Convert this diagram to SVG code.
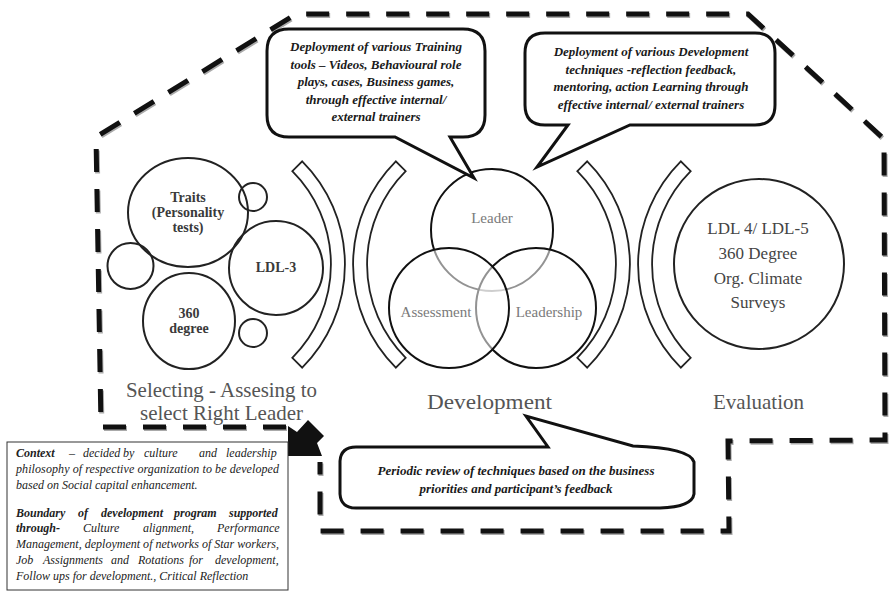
<svg xmlns="http://www.w3.org/2000/svg" width="889" height="591" viewBox="0 0 889 591">
  <style>
    .bd{fill:none;stroke:#111;stroke-width:5;stroke-dasharray:23 17;stroke-linejoin:miter}
    .bdsh{fill:none;stroke:#aaa;stroke-width:5;stroke-dasharray:23 17}
    .c{fill:none;stroke:#222;stroke-width:2}
    .band{fill:#fff;stroke:#222;stroke-width:1.8}
    .v{fill:#fff;fill-opacity:.55;stroke:#111;stroke-width:2}
    .bub{fill:#fff;stroke:#111;stroke-width:3;stroke-linejoin:miter}
    .bt{font-family:"Liberation Serif",serif;font-weight:bold;font-style:italic;font-size:13px;fill:#1a1a1a;text-anchor:middle}
    .ct{font-family:"Liberation Serif",serif;font-weight:bold;font-size:14px;fill:#3a3a3a;text-anchor:middle}
    .vt{font-family:"Liberation Serif",serif;font-size:15px;fill:#7a7a7a;text-anchor:middle}
    .et{font-family:"Liberation Serif",serif;font-size:17px;fill:#444;text-anchor:middle}
    .lb{font-family:"Liberation Serif",serif;font-size:21px;fill:#555;text-anchor:middle}
    .tx{font-family:"Liberation Serif",serif;font-style:italic;font-size:12px;fill:#222}
    .b{font-weight:bold}
  </style>
  <defs>
    <path id="boundary" d="M 286,427 L 101,427 L 96,137 L 296,14 L 748,14 L 884,139 L 885,440 L 728,441 L 729,531 L 320,531 L 320,462"/>
  </defs>

  <!-- programme boundary (dashed) with its soft shadow -->
  <g id="boundary-line">
    <use href="#boundary" class="bdsh" transform="translate(1,1.5)"/>
    <use href="#boundary" class="bd"/>
    <polygon points="288,426 297,432 308,420 324,436 317,443 322,456 288,456" fill="#111"/>
  </g>

  <!-- selection: assessment circles -->
  <g id="selecting">
    <ellipse class="c" cx="188" cy="212.5" rx="60" ry="54.5"/>
    <circle class="c" cx="253" cy="197" r="14"/>
    <circle class="c" cx="276" cy="268" r="47"/>
    <circle class="c" cx="130.5" cy="266" r="23"/>
    <ellipse class="c" cx="189" cy="321" rx="46" ry="48"/>
    <circle class="c" cx="253" cy="333" r="14"/>
    <text class="ct" x="188" y="202">Traits</text>
    <text class="ct" x="188" y="217">(Personality</text>
    <text class="ct" x="188" y="232">tests)</text>
    <text class="ct" x="276" y="272">LDL-3</text>
    <text class="ct" x="189" y="318">360</text>
    <text class="ct" x="189" y="333">degree</text>
    <text class="lb" x="221.5" y="397" textLength="191" lengthAdjust="spacingAndGlyphs">Selecting - Assesing to</text>
    <text class="lb" x="221.5" y="420" textLength="163" lengthAdjust="spacingAndGlyphs">select Right Leader</text>
  </g>

  <!-- bracket bands between stages -->
  <g id="brackets">
    <path class="band" d="M 302.2,161.3 A 146 146 0 0 1 302.2,367.7 L 292.3,357.8 A 132 132 0 0 0 292.3,171.2 Z"/>
    <path class="band" d="M 395.8,161.3 A 146 146 0 0 0 395.8,367.7 L 405.7,357.8 A 132 132 0 0 1 405.7,171.2 Z"/>
    <path class="band" d="M 587.2,161.3 A 146 146 0 0 1 587.2,367.7 L 577.3,357.8 A 132 132 0 0 0 577.3,171.2 Z"/>
    <path class="band" d="M 680.8,161.3 A 146 146 0 0 0 680.8,367.7 L 690.7,357.8 A 132 132 0 0 1 690.7,171.2 Z"/>
  </g>

  <!-- development: three overlapping circles -->
  <g id="development">
    <circle class="v" cx="492" cy="230" r="61"/>
    <circle class="v" cx="536" cy="308" r="60"/>
    <circle class="v" cx="449" cy="308" r="60"/>
    <text class="vt" x="492" y="223">Leader</text>
    <text class="vt" x="436" y="317">Assessment</text>
    <text class="vt" x="549" y="317">Leadership</text>
    <text class="lb" x="489.5" y="409" font-size="22" textLength="125" lengthAdjust="spacingAndGlyphs">Development</text>
  </g>

  <!-- evaluation -->
  <g id="evaluation">
    <circle class="c" cx="759" cy="264" r="85"/>
    <text class="et" x="758" y="234">LDL 4/ LDL-5</text>
    <text class="et" x="758" y="259">360 Degree</text>
    <text class="et" x="758" y="284">Org. Climate</text>
    <text class="et" x="758" y="308">Surveys</text>
    <text class="lb" x="758.5" y="409">Evaluation</text>
  </g>

  <!-- callouts -->
  <g id="callout-training">
    <path class="bub" d="M 289,29 H 463 Q 485,29 485,51 V 115 Q 485,137 463,137 H 450 L 474,178 L 395,137 H 289 Q 267,137 267,115 V 51 Q 267,29 289,29 Z"/>
    <text class="bt" x="376" y="51">Deployment of various Training</text>
    <text class="bt" x="376" y="68.5">tools – Videos, Behavioural role</text>
    <text class="bt" x="376" y="86">plays, cases, Business games,</text>
    <text class="bt" x="376" y="103.5">through effective internal/</text>
    <text class="bt" x="376" y="121">external trainers</text>
  </g>

  <g id="callout-development">
    <path class="bub" d="M 545,33 H 755 Q 775,33 775,53 V 105 Q 775,125 755,125 H 630 L 537,167 L 568,125 H 545 Q 525,125 525,105 V 53 Q 525,33 545,33 Z"/>
    <text class="bt" x="651" y="56">Deployment of various Development</text>
    <text class="bt" x="651" y="74">techniques -reflection feedback,</text>
    <text class="bt" x="651" y="91">mentoring, action Learning through</text>
    <text class="bt" x="651" y="109">effective internal/ external trainers</text>
  </g>

  <g id="callout-review">
    <path class="bub" d="M 356,447 H 548 L 526,416 L 633,446 Q 690,448 694,462 V 494 Q 692,507 660,508 H 356 Q 341,508 340,494 V 461 Q 341,447 356,447 Z"/>
    <text class="bt" x="516" y="475">Periodic review of techniques based on the business</text>
    <text class="bt" x="516" y="493">priorities and participant’s feedback</text>
  </g>

  <!-- context note -->
  <g id="context-note">
    <rect x="7" y="442" width="281" height="148" fill="#fff" stroke="#333" stroke-width="1"/>
    <text class="tx" y="457"><tspan class="b" x="16">Context</tspan><tspan x="69">–</tspan><tspan x="83">decided</tspan><tspan x="123">by</tspan><tspan x="144">culture</tspan><tspan x="199">and</tspan><tspan x="226">leadership</tspan></text>
    <text class="tx" x="16" y="473" textLength="263" lengthAdjust="spacing">philosophy of respective organization to be developed</text>
    <text class="tx" x="16" y="489">based on Social capital enhancement.</text>
    <text class="tx b" y="517"><tspan x="16">Boundary</tspan><tspan x="78">of</tspan><tspan x="101">development</tspan><tspan x="174">program</tspan><tspan x="229">supported</tspan></text>
    <text class="tx" y="532"><tspan class="b" x="16">through-</tspan><tspan x="83">Culture</tspan><tspan x="143">alignment,</tspan><tspan x="217">Performance</tspan></text>
    <text class="tx" x="16" y="548" textLength="263" lengthAdjust="spacing">Management, deployment of networks of Star workers,</text>
    <text class="tx" y="564"><tspan x="16">Job</tspan><tspan x="43">Assignments</tspan><tspan x="111">and</tspan><tspan x="138">Rotations</tspan><tspan x="189">for</tspan><tspan x="215">development,</tspan></text>
    <text class="tx" x="16" y="580">Follow ups for development., Critical Reflection</text>
  </g>
</svg>
